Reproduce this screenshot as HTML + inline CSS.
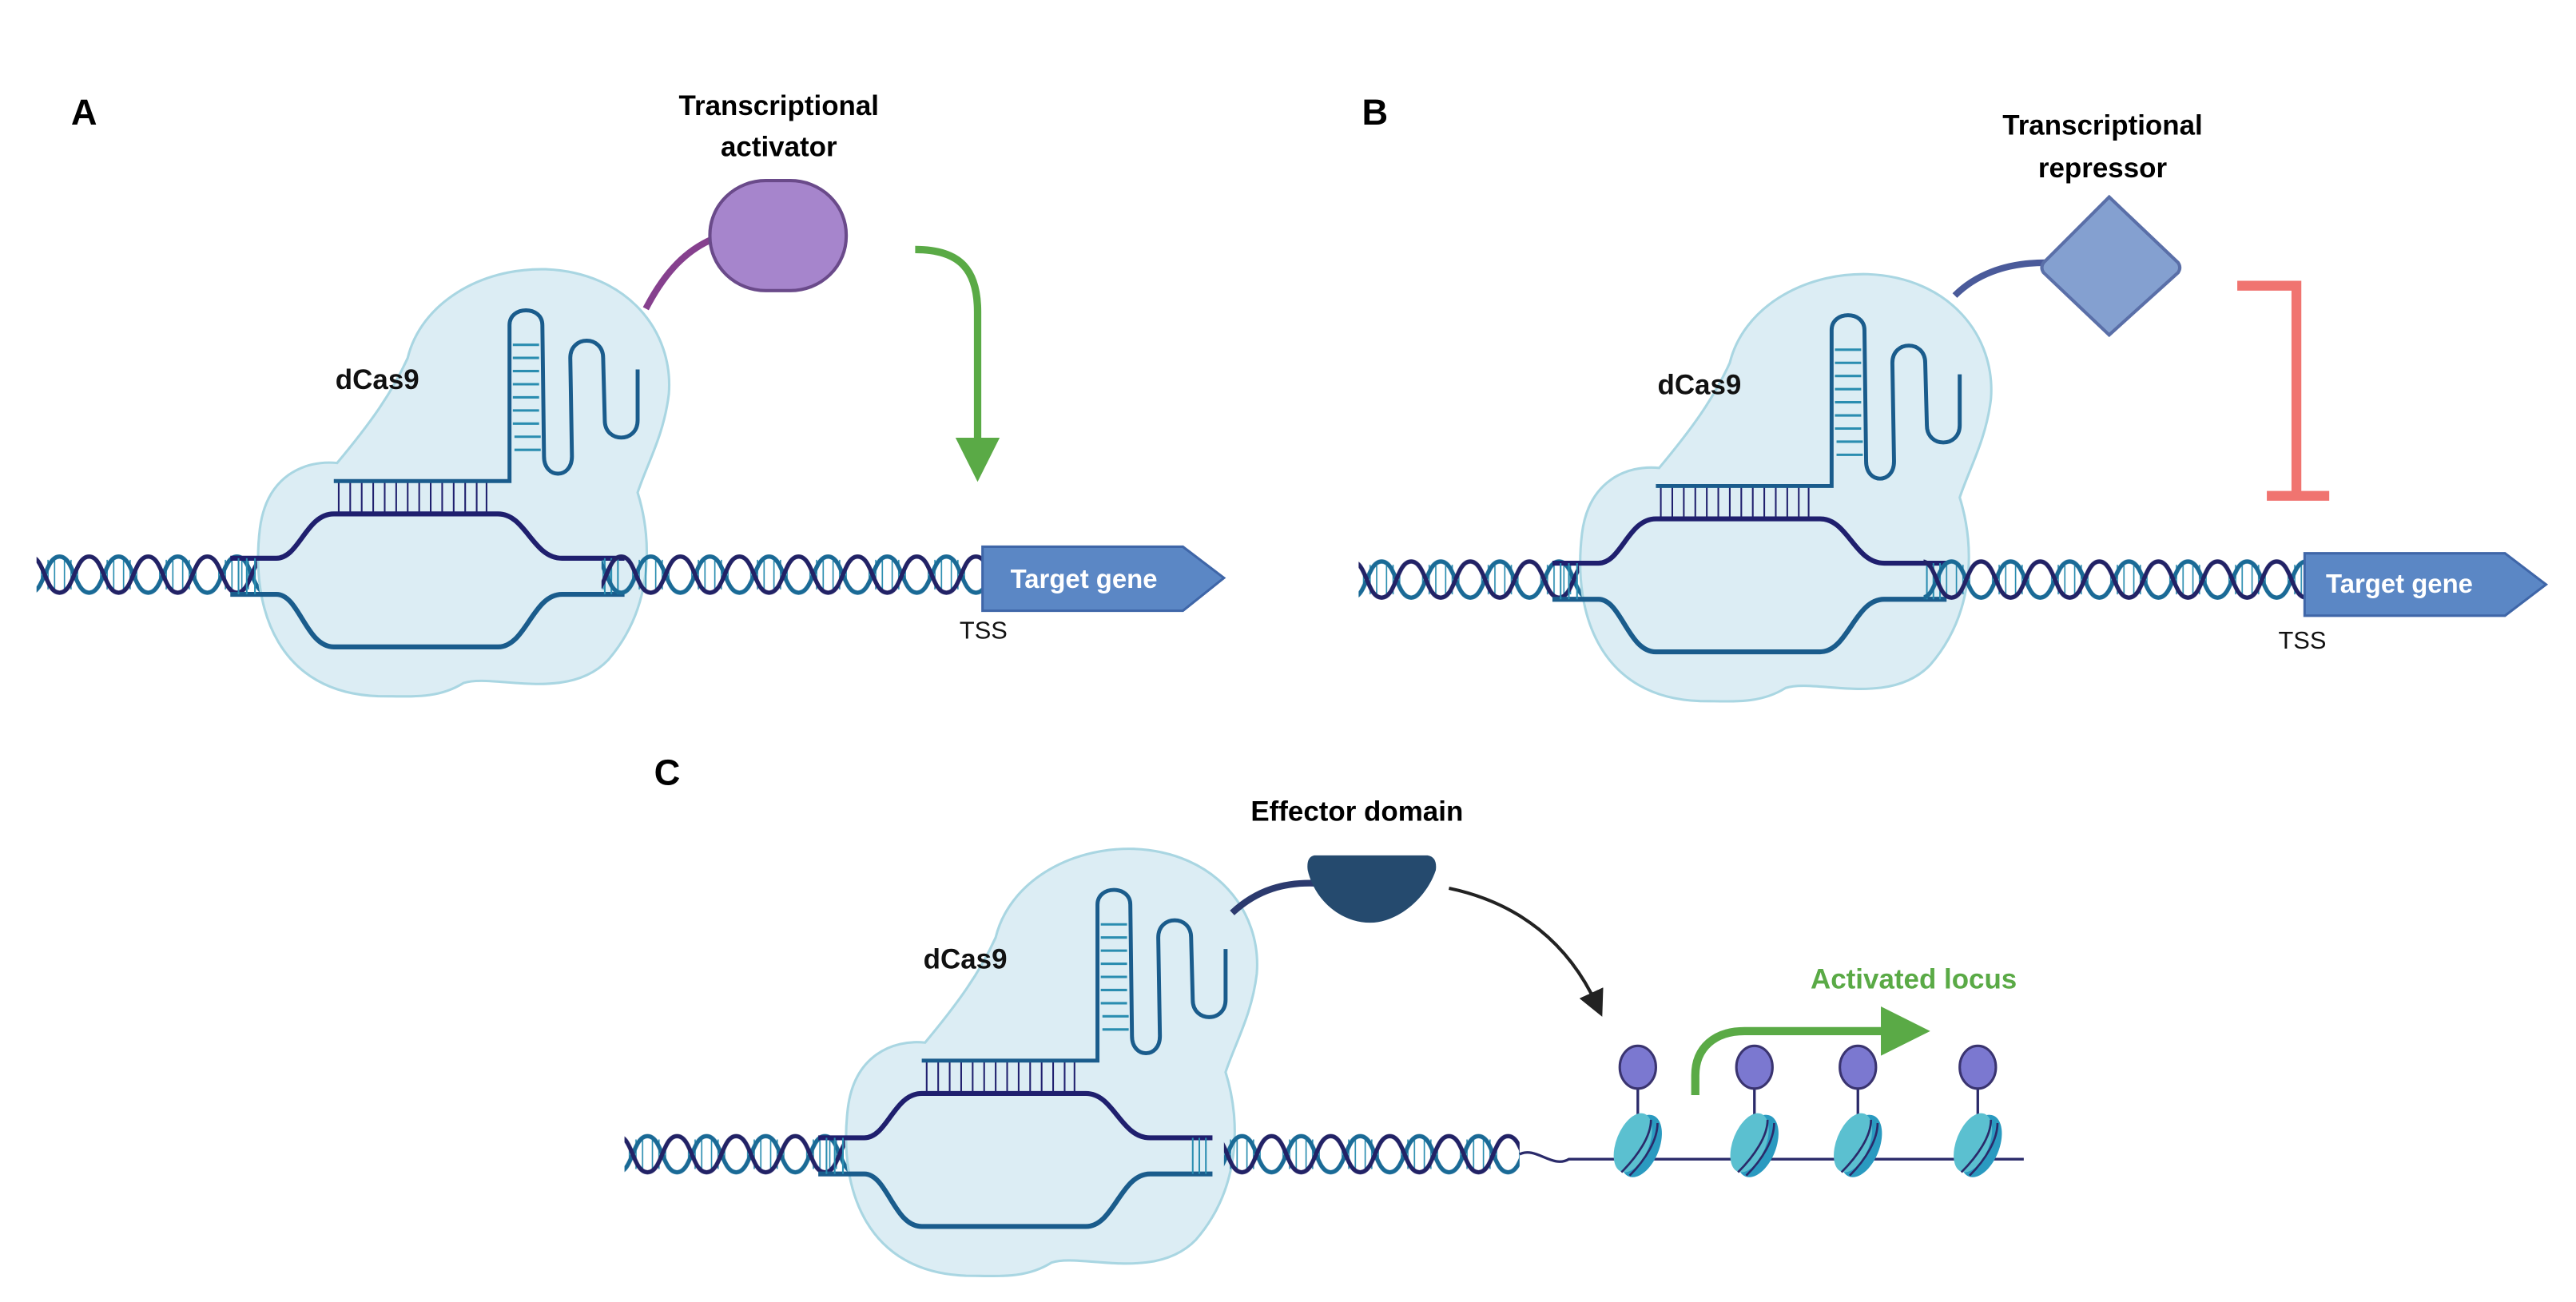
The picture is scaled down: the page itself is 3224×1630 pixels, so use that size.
<!DOCTYPE html>
<html><head><meta charset="utf-8"><style>
html,body{margin:0;padding:0;background:#fff;}
svg{display:block;}
text{font-family:"Liberation Sans",sans-serif;}
</style></head><body>
<svg width="3224" height="1630" viewBox="0 0 1568 793" xmlns="http://www.w3.org/2000/svg">
<defs>
<g id="helixtile">
  <g stroke="#2a8db0" stroke-width="0.8">
    <line x1="3" y1="4" x2="3" y2="24"/><line x1="7" y1="5" x2="7" y2="23"/><line x1="11" y1="8" x2="11" y2="20"/>
    <line x1="25" y1="8" x2="25" y2="20"/><line x1="29" y1="5" x2="29" y2="23"/><line x1="33" y1="4" x2="33" y2="24"/>
  </g>
  <path d="M0,3 C9,3 9,25 18,25 C27,25 27,3 36,3" fill="none" stroke="#1a6a96" stroke-width="2.6"/>
  <path d="M0,25 C9,25 9,3 18,3 C27,3 27,25 36,25" fill="none" stroke="#222266" stroke-width="2.6"/>
</g>
<pattern id="helix" patternUnits="userSpaceOnUse" x="0" y="336" width="36" height="28"><use href="#helixtile"/></pattern>
<pattern id="helixB" patternUnits="userSpaceOnUse" x="0" y="339" width="36" height="28"><use href="#helixtile"/></pattern>
<pattern id="helixC" patternUnits="userSpaceOnUse" x="0" y="689" width="36" height="28"><use href="#helixtile"/></pattern>
<marker id="ga" markerWidth="6" markerHeight="6" refX="3" refY="3" orient="auto" markerUnits="strokeWidth"><path d="M0,0 L6,3 L0,6 Z" fill="#5aaa46"/></marker>
<marker id="ka" markerWidth="8" markerHeight="8" refX="4" refY="4" orient="auto" markerUnits="strokeWidth"><path d="M0,0 L8,4 L0,8 Z" fill="#222"/></marker>
<g id="cas">
  <rect x="22" y="336" width="138" height="28" fill="url(#helix)"/>
  <path d="M230,424 C170,422 152,372 158,322 C162,290 185,280 205,282 C225,258 238,240 248,218 C256,185 292,163 332,164 C382,166 410,202 407,240 C404,265 394,282 388,300 C398,332 396,372 370,402 C345,428 300,410 282,416 C266,426 250,424 230,424 Z" fill="#dcedf4" stroke="#a9d6e2" stroke-width="1.5"/>
  <g stroke="#1f1f6e" stroke-width="1">
    <line x1="206" y1="293" x2="206" y2="312"/><line x1="213" y1="293" x2="213" y2="312"/><line x1="220" y1="293" x2="220" y2="312"/><line x1="227" y1="293" x2="227" y2="312"/><line x1="234" y1="293" x2="234" y2="312"/><line x1="241" y1="293" x2="241" y2="312"/><line x1="248" y1="293" x2="248" y2="312"/><line x1="255" y1="293" x2="255" y2="312"/><line x1="262" y1="293" x2="262" y2="312"/><line x1="269" y1="293" x2="269" y2="312"/><line x1="276" y1="293" x2="276" y2="312"/><line x1="283" y1="293" x2="283" y2="312"/><line x1="290" y1="293" x2="290" y2="312"/><line x1="296" y1="293" x2="296" y2="312"/>
  </g>
  <g stroke="#2a8db0" stroke-width="1.5">
    <line x1="312" y1="210" x2="328" y2="210"/><line x1="312" y1="218" x2="328" y2="218"/><line x1="312" y1="226" x2="328" y2="226"/><line x1="312" y1="234" x2="328" y2="234"/><line x1="312" y1="242" x2="328" y2="242"/><line x1="312" y1="250" x2="328" y2="250"/><line x1="312" y1="258" x2="328" y2="258"/><line x1="313" y1="266" x2="329" y2="266"/><line x1="313" y1="274" x2="329" y2="274"/>
  </g>
  <path d="M203,293 L310,293 L310,198 C310,186 330,186 330,198 L331,278 C331,292 348,292 348,278 L347,218 C347,204 367,204 367,218 L368,256 C368,270 388,270 388,256 L388,225" fill="none" stroke="#1a5c8c" stroke-width="2.4"/>
  <path d="M140,340 L168,340 C182,340 186,313 203,313 L303,313 C320,313 324,340 342,340 L380,340" fill="none" stroke="#1f1f6e" stroke-width="3"/>
  <path d="M140,362 L168,362 C182,362 186,394 203,394 L303,394 C320,394 324,362 342,362 L380,362" fill="none" stroke="#1a5c8c" stroke-width="3"/>
  <g stroke="#2a8db0" stroke-width="1"><line x1="145" y1="340" x2="145" y2="362"/><line x1="150" y1="340" x2="150" y2="362"/><line x1="155" y1="340" x2="155" y2="362"/><line x1="368" y1="340" x2="368" y2="362"/><line x1="372" y1="340" x2="372" y2="362"/><line x1="376" y1="340" x2="376" y2="362"/></g>
  <text x="204" y="237" font-size="17" font-weight="bold" fill="#111">dCas9</text>
</g>
<g id="nuc">
  <line x1="0" y1="-38" x2="0" y2="-10" stroke="#2a2a6a" stroke-width="1.6"/>
  <ellipse cx="0" cy="-46" rx="11" ry="13" fill="#7b78d0" stroke="#3a3470" stroke-width="1.5"/>
  <ellipse cx="2" cy="2" rx="11" ry="20" transform="rotate(22 2 2)" fill="#2a9ac0"/>
  <ellipse cx="-3" cy="0" rx="10" ry="19" transform="rotate(22 -3 0)" fill="#5bc0d0"/>
  <path d="M-10,18 C0,8 8,-4 8,-14 M-5,20 C5,10 12,-2 12,-12" fill="none" stroke="#2a2a6a" stroke-width="1.3"/>
</g>
</defs>

<!-- Panel A -->
<text x="43" y="76" font-size="22" font-weight="bold">A</text>
<use href="#cas"/>
<rect x="366" y="336" width="232" height="28" fill="url(#helix)"/>
<path d="M598,333 L720,333 L745,352 L720,372 L598,372 Z" fill="#5b87c5" stroke="#3f66a8" stroke-width="1.5"/>
<text x="615" y="358" font-size="16" font-weight="bold" fill="#fff">Target gene</text>
<text x="584" y="389" font-size="15" fill="#111">TSS</text>
<text x="474" y="70" font-size="17" font-weight="bold" text-anchor="middle">Transcriptional</text>
<text x="474" y="95" font-size="17" font-weight="bold" text-anchor="middle">activator</text>
<path d="M393,188 C405,165 418,152 435,145" fill="none" stroke="#86408e" stroke-width="4"/>
<rect x="432" y="110" width="83" height="67" rx="34" ry="33" fill="#a685cc" stroke="#6a4a8a" stroke-width="2"/>
<path d="M557,152 C585,152 595,165 595,190 L595,280" fill="none" stroke="#5aaa46" stroke-width="4.5" marker-end="url(#ga)"/>

<!-- Panel B -->
<text x="829" y="76" font-size="22" font-weight="bold">B</text>
<use href="#cas" transform="translate(805,3)"/>
<rect x="1171" y="339" width="232" height="28" fill="url(#helixB)"/>
<path d="M1403,337 L1525,337 L1550,356 L1525,375 L1403,375 Z" fill="#5b87c5" stroke="#3f66a8" stroke-width="1.5"/>
<text x="1416" y="361" font-size="16" font-weight="bold" fill="#fff">Target gene</text>
<text x="1387" y="395" font-size="15" fill="#111">TSS</text>
<text x="1280" y="82" font-size="17" font-weight="bold" text-anchor="middle">Transcriptional</text>
<text x="1280" y="108" font-size="17" font-weight="bold" text-anchor="middle">repressor</text>
<path d="M1190,180 C1202,168 1220,160 1245,160" fill="none" stroke="#4a5a9a" stroke-width="4"/>
<path d="M1284,120 L1326,160 Q1328,163 1326,166 L1284,204 L1244,166 Q1242,163 1244,160 Z" fill="#84a0d0" stroke="#5a6fa8" stroke-width="2"/>
<path d="M1362,174 L1398,174 L1398,302 M1380,302 L1418,302" fill="none" stroke="#f07470" stroke-width="6"/>

<!-- Panel C -->
<text x="398" y="478" font-size="22" font-weight="bold">C</text>
<use href="#cas" transform="translate(358,353)"/>
<rect x="745" y="689" width="180" height="28" fill="url(#helixC)"/>
<path d="M925,703 C935,698 945,712 955,706 L1232,706" fill="none" stroke="#2a2a6a" stroke-width="1.6"/>
<text x="826" y="500" font-size="17" font-weight="bold" text-anchor="middle">Effector domain</text>
<path d="M750,556 C765,542 782,537 802,538" fill="none" stroke="#2c3a6e" stroke-width="4"/>
<path d="M800,521 L869,521 Q875,522 874,530 C868,548 850,562 834,562 C816,562 800,548 796,530 Q795,522 800,521 Z" fill="#254a6e"/>
<path d="M882,541 C925,550 955,575 972,612" fill="none" stroke="#222" stroke-width="2" marker-end="url(#ka)"/>
<text x="1165" y="602" font-size="17" font-weight="bold" fill="#5aaa46" text-anchor="middle">Activated locus</text>
<path d="M1032,667 L1032,655 C1032,638 1044,628 1062,628 L1160,628" fill="none" stroke="#5aaa46" stroke-width="5" marker-end="url(#ga)"/>
<use href="#nuc" transform="translate(997,696)"/>
<use href="#nuc" transform="translate(1068,696)"/>
<use href="#nuc" transform="translate(1131,696)"/>
<use href="#nuc" transform="translate(1204,696)"/>
</svg>
</body></html>
